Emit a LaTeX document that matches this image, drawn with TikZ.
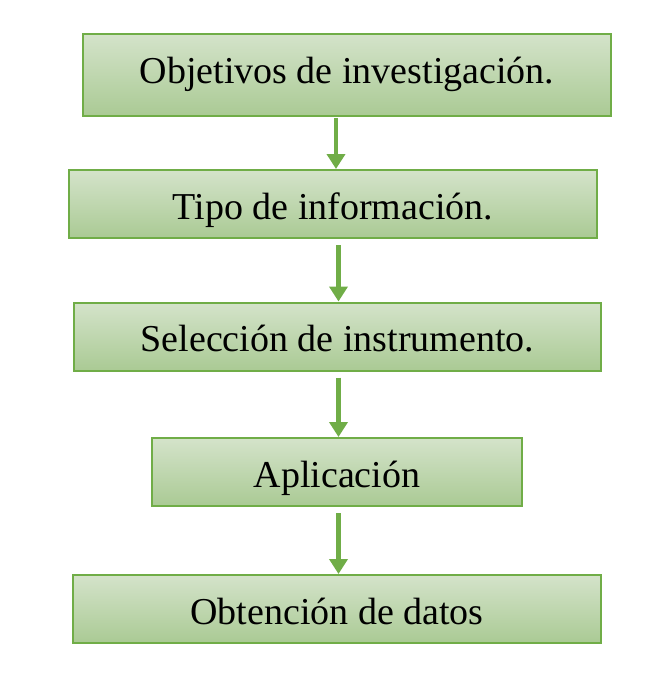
\documentclass[tikz,border=0pt]{standalone}
\usepackage{fontspec}
\setmainfont{Liberation Serif}
\usetikzlibrary{arrows.meta}
\definecolor{verdeBorde}{HTML}{70AD47}
\definecolor{verdeClaro}{HTML}{D4E3CA}
\definecolor{verdeOscuro}{HTML}{AACA94}

\begin{document}
\begin{tikzpicture}[x=1pt,y=1pt,
    paso/.style={draw=verdeBorde,line width=2pt,top color=verdeClaro,bottom color=verdeOscuro,
      minimum height=68pt,inner sep=0pt,text height=36pt,text depth=6pt,
      font=\fontsize{38}{44}\selectfont},
    flecha/.style={draw=verdeBorde,line width=4.5pt,-{Triangle[width=18pt,length=15pt]}}]
    \useasboundingbox (0,0) rectangle (664,-675);
    %--- cajas ---
    \node[paso,minimum width=528pt,minimum height=82pt,text depth=20pt] (b1) at (347,-75) {Objetivos de investigación.};
    \node[paso,minimum width=528pt] (b2) at (333,-204) {Tipo de información.};
    \node[paso,minimum width=527pt] (b3) at (337.5,-336.5) {Selección de instrumento.};
    \node[paso,minimum width=370pt] (b4) at (337,-472) {Aplicación};
    \node[paso,minimum width=528pt] (b5) at (337,-609) {Obtención de datos};
    %--- flechas ---
    \coordinate (a1) at (336,0);
    \coordinate (a2) at (338.5,0);
    \draw[flecha,shorten <=1pt] (b1.south -| a1) -- (b2.north -| a1);
    \draw[flecha,shorten <=6pt] (b2.south -| a2) -- (b3.north -| a2);
    \draw[flecha,shorten <=6pt] (b3.south -| a2) -- (b4.north -| a2);
    \draw[flecha,shorten <=6pt] (b4.south -| a2) -- (b5.north -| a2);
\end{tikzpicture}
\end{document}
